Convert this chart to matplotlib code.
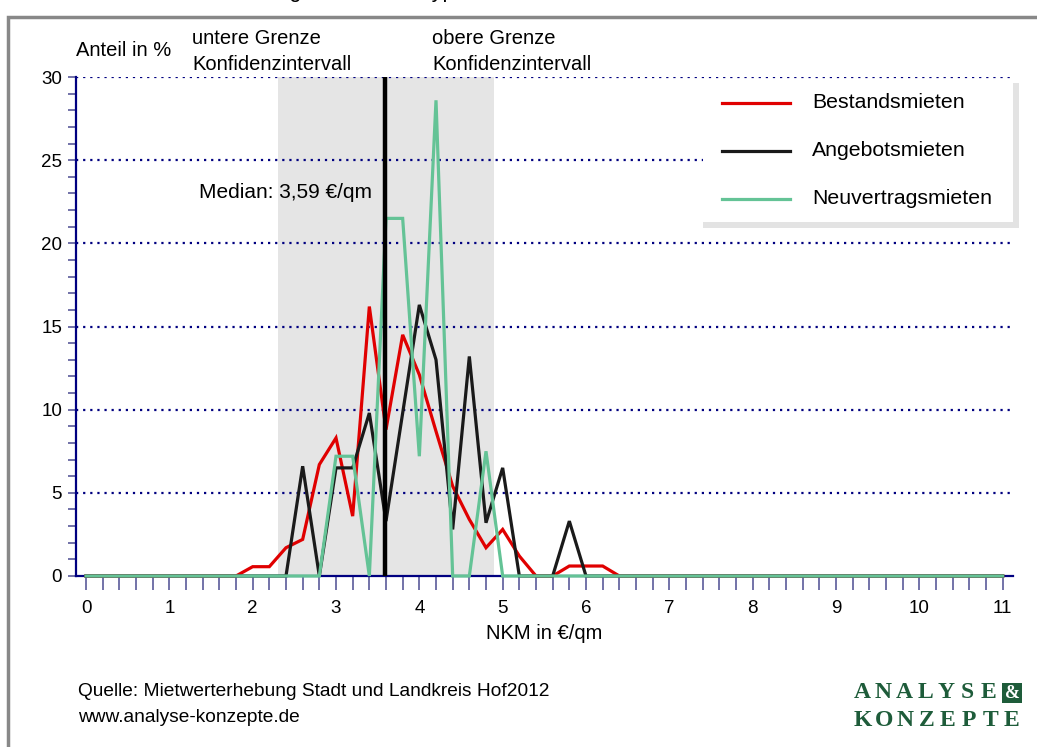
import matplotlib
matplotlib.use("Agg")
import matplotlib.pyplot as plt
from matplotlib.patches import Rectangle
import numpy as np

plt.rcParams['font.family'] = ['Liberation Sans', 'DejaVu Sans']

# ---- data ----
x_vals = [round(i * 0.2, 1) for i in range(56)]  # 0.0 .. 11.0
bestand = {2.0: 0.56, 2.2: 0.56, 2.4: 1.7, 2.6: 2.2, 2.8: 6.7, 3.0: 8.3, 3.2: 3.6,
           3.4: 16.2, 3.6: 8.8, 3.8: 14.5, 4.0: 12.1, 4.2: 8.7, 4.4: 5.4, 4.6: 3.4,
           4.8: 1.7, 5.0: 2.8, 5.2: 1.2, 5.8: 0.6, 6.0: 0.6, 6.2: 0.6}
angebot = {2.6: 6.6, 3.0: 6.5, 3.2: 6.5, 3.4: 9.8, 3.6: 3.3, 3.8: 9.8, 4.0: 16.3,
           4.2: 13.0, 4.4: 2.8, 4.6: 13.2, 4.8: 3.2, 5.0: 6.5, 5.8: 3.3}
neuvertrag = {3.0: 7.2, 3.2: 7.2, 3.6: 21.5, 3.8: 21.5, 4.0: 7.2, 4.2: 28.6, 4.8: 7.5}

series_names = ["Bestandsmieten", "Angebotsmieten", "Neuvertragsmieten"]
series_colors = ["#e00000", "#1a1a1a", "#64c396"]
median_value = 3.59
ci_lower, ci_upper = 2.3, 4.9
x_ticks = list(range(0, 12))
y_ticks = [0, 5, 10, 15, 20, 25, 30]


def full(d):
    return [d.get(x, 0.0) for x in x_vals]


W, H = 1037, 747
fig = plt.figure(figsize=(W / 100, H / 100), dpi=100)

# outer frame
fig.patches.append(Rectangle((8 / W, -0.1), 1.2, (H - 17) / H + 0.1, transform=fig.transFigure,
                             fill=False, edgecolor="#888888", linewidth=2.5))
# clipped title (only descenders visible, as in the reference)
fig.text(205 / W, 1 + 3.5 / H, "Verteilung nach Mietentypen", fontsize=15.7, va="baseline", ha="left")

ax = fig.add_axes([76 / W, (H - 576) / H, (1013 - 76) / W, (576 - 77) / H])
ax.set_xlim(-0.12, 11.124)
ax.set_ylim(0, 30)

ax.axvspan(ci_lower, ci_upper, color="#e5e5e5", zorder=0, lw=0)
for yv in y_ticks[1:]:
    ax.axhline(yv, color="#000080", linestyle=(0, (1, 2.2)), linewidth=1.6, zorder=1)

for name, col, d in zip(series_names, series_colors, [bestand, angebot, neuvertrag]):
    ax.plot(x_vals, full(d), color=col, linewidth=2.3, zorder=3, label=name,
            solid_joinstyle="miter", clip_on=False)
ax.plot([median_value, median_value], [0, 30], color="black", linewidth=3.2, zorder=4)

for s in ["top", "right"]:
    ax.spines[s].set_visible(False)
ax.spines["left"].set_color("#000080")
ax.spines["bottom"].set_color("#000080")
ax.spines["left"].set_linewidth(1.6)
ax.spines["bottom"].set_linewidth(1.6)

ax.set_xticks(x_ticks)
ax.set_xticks(np.arange(0, 11.01, 0.2), minor=True)
ax.set_yticks(y_ticks)
ax.set_yticks(range(0, 31), minor=True)
ax.tick_params(axis="x", which="both", direction="out", length=10, width=1.2, color="#5a5a9a",
               labelsize=13.5, pad=7)
ax.tick_params(axis="y", which="both", direction="out", length=6, width=1.2, color="#5a5a9a",
               labelsize=13.5, pad=4)
ax.set_xlabel("NKM in €/qm", fontsize=14.5, labelpad=5)

# legend box with shadow
lx0, ly0, lx1, ly1 = 703, 83, 1019, 228
fig.patches.append(Rectangle((lx0 / W, (H - ly1) / H), (lx1 - lx0) / W, (ly1 - ly0) / H,
                             transform=fig.transFigure, facecolor="#e3e3e3", edgecolor="none", zorder=5))
fig.patches.append(Rectangle((lx0 / W, (H - 222) / H), (1013 - lx0) / W, (222 - ly0) / H,
                             transform=fig.transFigure, facecolor="white", edgecolor="none", zorder=6))
for i, (name, col) in enumerate(zip(series_names, series_colors)):
    yy = (H - (103 + i * 48)) / H
    fig.add_artist(plt.Line2D([722 / W, 790 / W], [yy, yy], color=col, linewidth=2.3,
                              transform=fig.transFigure, zorder=7))
    fig.text(812 / W, yy, name, fontsize=15.3, va="center", ha="left", zorder=8)

# annotations
fig.text(76 / W, (H - 50) / H, "Anteil in %", fontsize=14.5, va="center")
fig.text(192 / W, (H - 38) / H, "untere Grenze", fontsize=14.5, va="center")
fig.text(192 / W, (H - 64) / H, "Konfidenzintervall", fontsize=14.5, va="center")
fig.text(432 / W, (H - 38) / H, "obere Grenze", fontsize=14.5, va="center")
fig.text(432 / W, (H - 64) / H, "Konfidenzintervall", fontsize=14.5, va="center")
fig.text(199 / W, (H - 192) / H, "Median: 3,59 €/qm", fontsize=15, va="center")

fig.text(78 / W, (H - 692) / H, "Quelle: Mietwerterhebung Stadt und Landkreis Hof2012", fontsize=13.8, va="center")
fig.text(78 / W, (H - 717) / H, "www.analyse-konzepte.de", fontsize=13.8, va="center")

# logo
green = "#1e5c3a"
for i, ch in enumerate("ANALYSE"):
    fig.text((852 + 10.5 + 21 * i) / W, (H - 692) / H, ch, fontsize=17, fontweight="bold",
             family="Liberation Serif", color=green, va="center", ha="center")
fig.patches.append(Rectangle((1002 / W, (H - 703) / H), 20 / W, 20 / H, transform=fig.transFigure,
                             facecolor=green, edgecolor="none"))
fig.text(1012 / W, (H - 693) / H, "&", fontsize=13, fontweight="bold", family="Liberation Serif",
         color="white", va="center", ha="center")
for i, ch in enumerate("KONZEPTE"):
    fig.text((852 + 10.6 + 21.25 * i) / W, (H - 721) / H, ch, fontsize=17, fontweight="bold",
             family="Liberation Serif", color=green, va="center", ha="center")

fig.savefig("out.png", dpi=100)
